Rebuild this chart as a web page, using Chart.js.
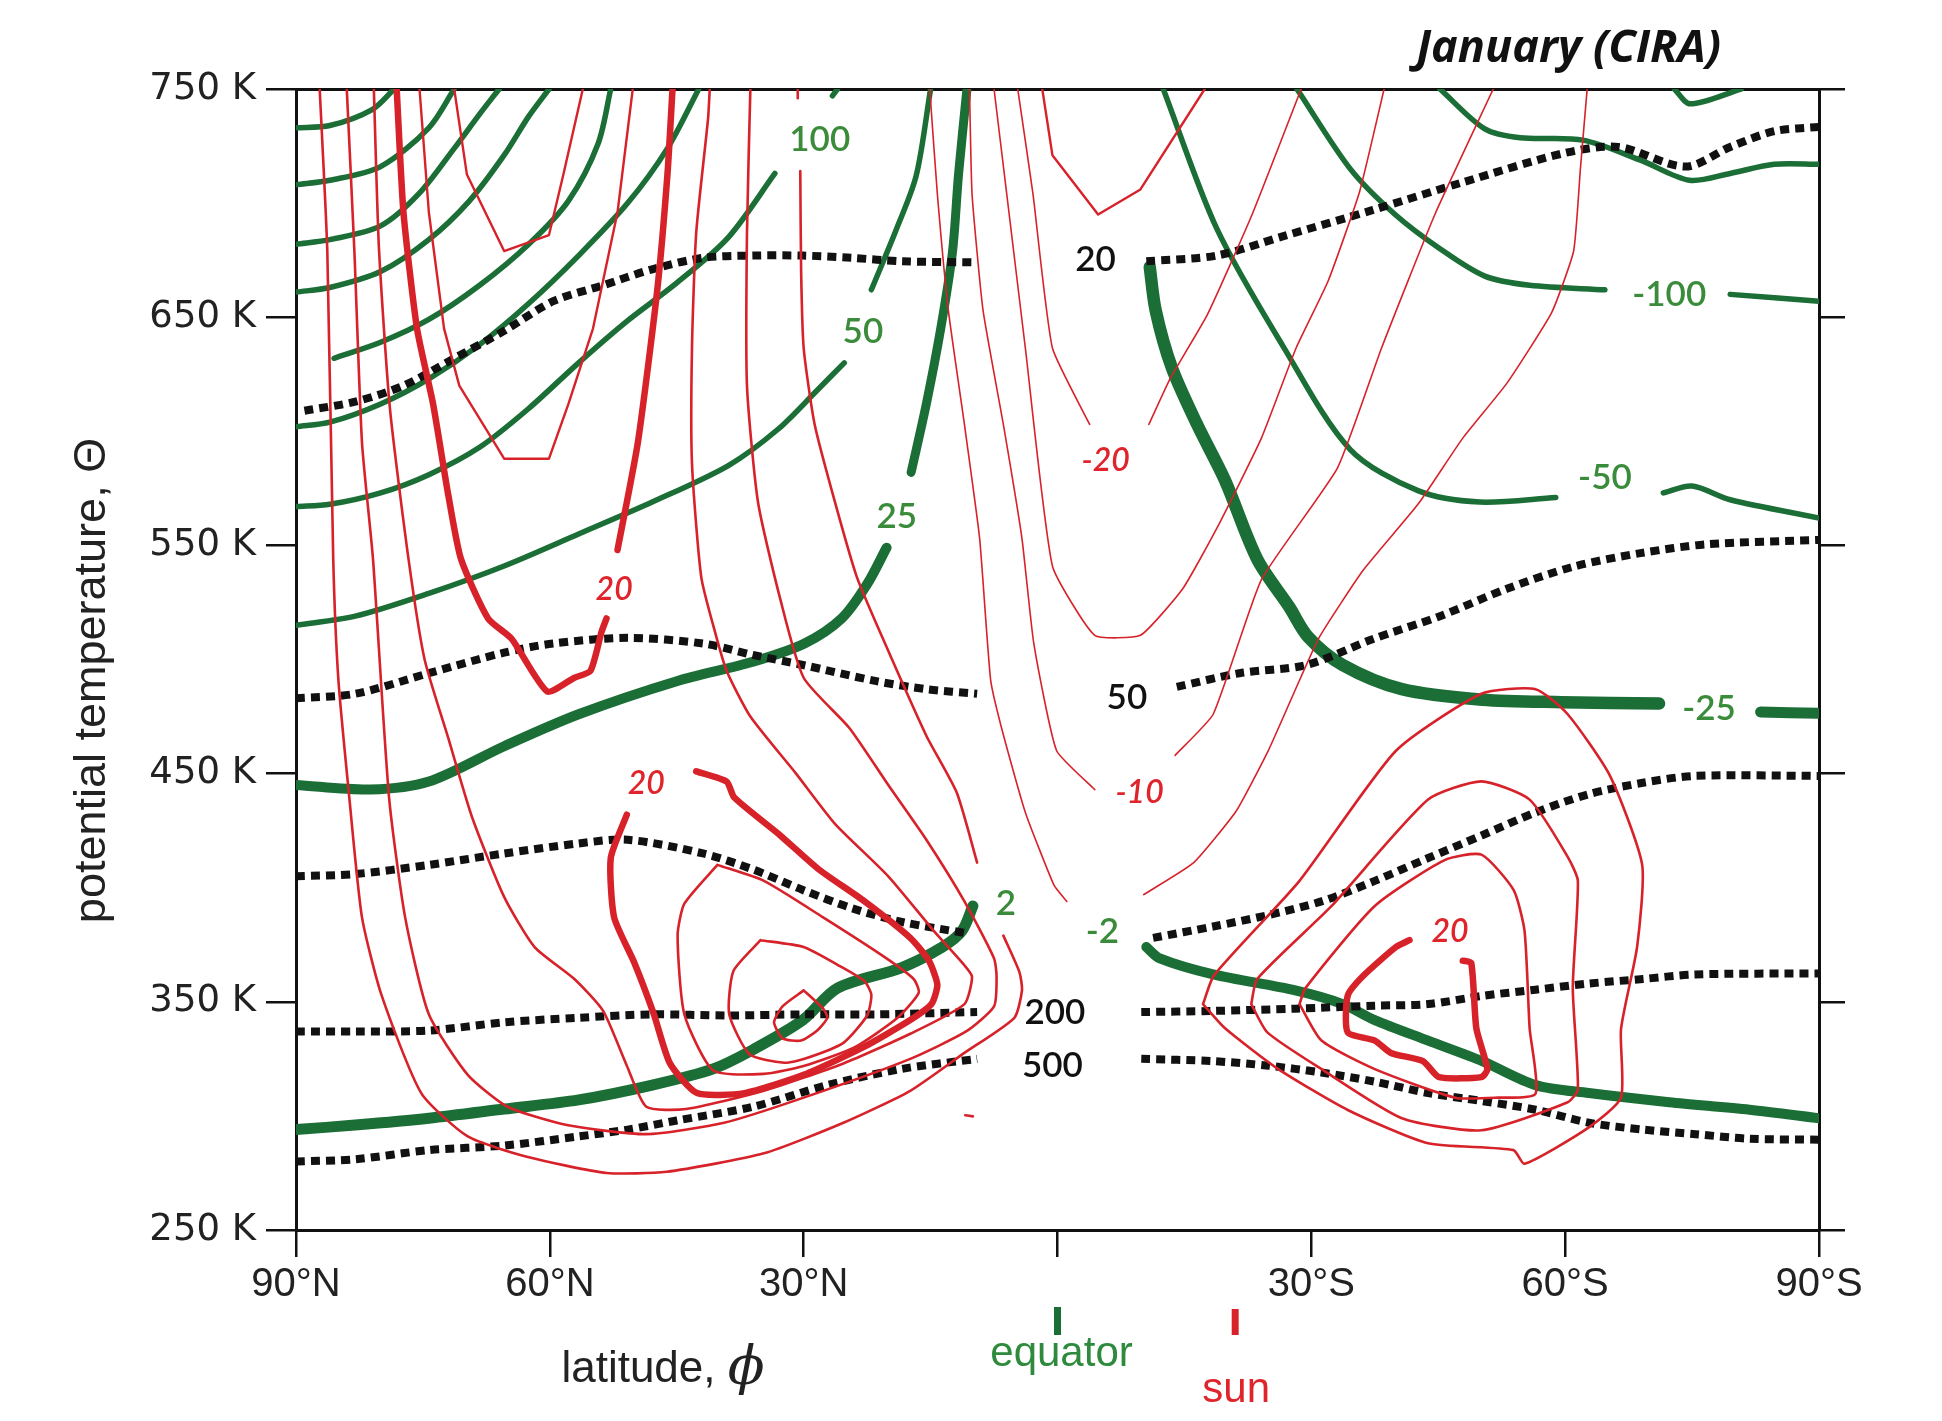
<!DOCTYPE html>
<html>
<head>
<meta charset="utf-8">
<title>January (CIRA)</title>
<script src="https://cdn.jsdelivr.net/npm/chart.js@4.4.0/dist/chart.umd.min.js"></script>
<style>
  html, body { margin: 0; padding: 0; background: #fff; }
  canvas { display: block; }
</style>
</head>
<body>
<canvas id="myChart" width="1942" height="1421"></canvas>
<script>
// Axes
const latTicks = [90, 60, 30, 0, -30, -60, -90];
const latLabels = ['90°N', '60°N', '30°N', '', '30°S', '60°S', '90°S'];
const thetaTicks = [250, 350, 450, 550, 650, 750];

// Green: potential vorticity contours [latitude, theta]
const pvN1 = [[90,733],[86,734],[81,741],[78.4,750]];
const pvN2 = [[90,708],[86,710],[80,716],[74.3,733],[71.3,750]];
const pvN3 = [[90,682],[86,684],[80,690],[75.5,704],[71.3,724],[68.3,739],[66,750]];
const pvN4 = [[90,661],[86,663],[80,670],[74.3,684],[69.5,701],[65.4,721],[62.5,738],[60.1,750]];
const pvN5 = [[85.5,632],[80,639],[74.3,649],[68.3,664],[62.5,682],[57.8,701],[54.3,726],[52.8,750]];
const pvN6 = [[90,602],[86,604],[80,612],[74.3,623],[68.3,638],[62.5,656],[56.6,677],[50.8,700],[46.1,724],[42.4,750]];
const pv100a = [[90,567],[86,568],[80,573],[74.3,581],[68.3,593],[62.5,610],[56.6,630],[50.8,648.5],[45,665],[38.9,685],[33.4,713]];
const pv100b = [[26.6,747],[26,750]];
const pv50a = [[90,515],[83,519],[74.3,529],[65.4,541],[56.6,555],[47.9,569],[38.9,585],[33,601],[28.4,618],[25.2,630]];
const pv50b = [[22,662],[19.1,688],[16.7,712],[15,750]];
const pv25a = [[90,445],[81.2,443],[74.3,446.5],[65.4,462],[56.6,476],[45,490.5],[36,499],[29.9,507],[25.5,518],[22.5,533],[20.2,549]];
const pv25b = [[17.3,582],[15.5,612],[13.8,645],[12.4,679],[11.7,712.5],[10.7,750]];
const pv2 = [[90,294],[83,296],[74.3,299],[65.4,303],[56.6,307],[47.9,313.5],[40.7,320.6],[36,329],[30.1,342],[26,356],[18.4,365],[13.6,374],[11.3,381],[10,392]];
const pvm2 = [[-10.5,374],[-12.1,369],[-18.4,362],[-28.1,355],[-33.7,349],[-37.5,342],[-43.8,333],[-50.2,324],[-56.5,313.5],[-62.8,310],[-72.3,306],[-81.8,302.7],[-90,299]];
const pvm25a = [[-10.9,672],[-11.6,653],[-13.5,628],[-16.5,603],[-19.8,578.5],[-23.6,544],[-27.4,523],[-29.6,510],[-33.7,497.6],[-40.7,487],[-50.2,482.4],[-59.6,481.3],[-71.1,480.7]];
const pvm25b = [[-83.1,477],[-90,476.4]];
const pvm50a = [[-12.5,750],[-18.8,689],[-26.7,637],[-34.6,592],[-42.6,574],[-49.9,569],[-58.9,571]];
const pvm50b = [[-71.6,573],[-75,576],[-79.5,570],[-90,562]];
const pvm100a = [[-28.3,750],[-34.6,715],[-39.9,695],[-45.2,680],[-50.5,668],[-55.8,664],[-64.7,662]];
const pvm100b = [[-79.5,660],[-90,657]];
const pvS1 = [[-45.2,750],[-50.5,732.5],[-54.7,728.6],[-62.1,727.6],[-68.9,718.8],[-74.7,710],[-79.5,713],[-84.7,717],[-90,717]];
const pvS2 = [[-72.9,750],[-74.8,743.5],[-80.8,750]];

// Black dotted: pressure levels (hPa)
const p20N = [[89,609],[83,613],[77.3,620],[71.3,632],[65.4,644],[59.6,657],[53.7,664],[47.9,671],[41.9,676],[36,677],[30.1,677],[24.3,676],[18.4,674.5],[9.5,674]];
const p20S = [[-10.5,674.5],[-18.8,677],[-26.7,685.5],[-37.3,697],[-47.8,709],[-60,722],[-66.3,724.6],[-74.2,716],[-79.5,724.6],[-84.7,731.5],[-90,733.4]];
const p50N = [[90,483],[83,485],[74.3,494],[65.4,503],[59.6,507],[50.8,509.5],[41.9,507],[36,502],[30.1,497.6],[21.4,490.5],[15.5,487],[9.5,485]];
const p50S = [[-14.1,488],[-21.5,494],[-29.4,497.6],[-37.3,509],[-45.2,519],[-53.1,531],[-61,540.7],[-68.9,546.6],[-76.8,550.5],[-90,552.4]];
const p100N = [[90,405],[83,406],[74.3,410],[65.4,415],[56.6,419.4],[50.8,421],[41.9,415],[36,408],[30.1,399],[24.3,391],[18.4,385],[10.7,380]];
const p100S = [[-11.3,378],[-18.4,383],[-24.9,388],[-31.2,394],[-37.5,403],[-43.8,413],[-50.2,423],[-56.5,433],[-62.8,441],[-69.2,446],[-75.4,449],[-90,449]];
const p200N = [[90,337],[83,337],[74.3,337.4],[65.4,341],[56.6,343],[47.9,344.5],[38.9,344],[30.1,344.5],[21.4,344.5],[9.5,345.5]];
const p200S = [[-9.9,345.5],[-18.4,346],[-28.1,347],[-37.5,348.3],[-43.8,349],[-50.2,352.6],[-56.5,355.3],[-62.8,358],[-69.2,360],[-75.4,362],[-90,362.4]];
const p500N = [[90,280],[83,281],[74.3,285],[65.4,287],[56.6,291],[50.8,294],[45,298],[36,304],[27.2,313.5],[18.4,320.6],[9.5,325]];
const p500S = [[-9.9,325],[-18.4,324],[-24.9,322],[-31.2,319],[-37.5,315],[-43.8,310],[-50.2,306.5],[-56.5,302.7],[-62.8,297],[-69.2,294],[-75.4,292],[-81.8,290],[-90,289.6]];

// Red: zonal wind (m/s)
const u5a = [[87.2,750],[86.3,679],[85.6,544],[85,491.6],[83.7,439.5],[82.2,387],[79.9,353],[75.2,310],[69.7,291],[62.6,282],[53.3,275],[46.2,275.5],[34.7,283.6],[25.3,297],[17.4,311],[11,327.6],[5.1,343],[4.2,355],[4.5,363],[6.4,379]];
const u5b = [[9.5,411],[11.9,441.6],[15.5,466.6],[20.5,508],[23.7,536],[26.3,569],[28.7,603],[30,636.5],[30.3,670],[30.4,714]];
const u5c = [[30.7,746],[30.7,750]];
const u10 = [[84,750],[83.1,679],[82.2,595],[80.9,544],[79,439.5],[77.1,387],[74.3,344.5],[69.7,318],[65,304],[58,296],[48.6,292],[39.4,297],[30,308],[17.4,325],[10.8,337],[7.5,348],[7.2,361],[7.5,369],[11,394],[15.5,421],[20,445],[24.6,470],[30,492],[32.8,527],[35.4,569],[36.7,620],[36.7,687],[36.3,750]];
const u15 = [[80.8,750],[80.2,680.5],[78.9,610],[76.7,544],[74.8,500],[72,465.5],[69.2,431],[65.4,396],[61.8,374],[57.1,360],[53.7,346],[50.9,322],[48.6,304],[43.9,303],[34.7,311],[25.3,323],[17.4,336],[11,349],[10.1,361],[11,366],[14.6,381],[20,405],[26.3,428],[30.9,450],[36.3,475],[39.1,495],[40.4,511],[42.1,536],[43.2,586],[43.2,636.5],[42.7,687],[41.3,737],[41.1,750]];
const u20a = [[78.1,750],[77.3,696],[75.7,645],[73.8,612],[72,572],[70.5,544],[67.3,518],[64.5,509],[60.3,486],[57.1,492],[55.2,495],[53.9,512],[53.3,518]];
const u20b = [[52,548],[49.6,595],[47.3,662],[46.1,712.5],[45.5,750]];
const u25v = [[75.4,750],[74.3,696],[72.5,645],[70.7,620],[65.4,588],[60.1,588],[57.8,612],[54.9,645],[52,696],[50.2,750]];
const u30v = [[71.3,750],[69.8,712.5],[65.4,679],[60.1,686],[58.4,712.5],[56.1,750]];
const u20low = [[50.9,432],[52.8,413],[52.4,387],[50,367],[47.7,344.5],[45.8,323],[42.6,310],[37,310],[30,318],[23,330],[17.4,342],[14.9,349],[14.2,357.5],[15.2,368],[17.4,378],[22.8,394],[28.2,408],[32.8,423],[38.2,439.5],[39.1,446.5],[42.7,451]];
const u25low = [[40.2,410],[34.7,403],[27.7,387],[20.6,370],[17,360],[16.4,354],[18.9,343],[24,330],[29.9,322],[34.7,318.4],[40.7,320],[44.1,344.5],[44.9,379],[44.1,393],[40.2,410]];
const u30low = [[35.1,377],[30,374],[25.9,366],[22.8,359],[22,353],[22.5,344],[25.3,332],[29.9,325],[32.3,323.3],[36.4,327],[38.8,344.5],[38.3,363.5],[35.1,377]];
const u35low = [[30,355],[27.7,347],[27.2,343],[28.4,337.4],[30.3,333],[32.5,334],[33.5,341],[32.5,348],[30,355]];
const uDash = [[10.9,300.3],[10,299.8]];
const uS5 = [[-17.2,349],[-18.5,361.6],[-28.6,403],[-40,460],[-50.1,485],[-56.5,487],[-60.3,476],[-65.3,449],[-69.1,410],[-68.5,374],[-66.6,338],[-66.6,308],[-62.8,295],[-55.2,279],[-53.9,285],[-43.8,288],[-34.3,302.6],[-26.1,320.5],[-19.8,338.4],[-17.2,349]];
const uS10 = [[-22.9,349],[-23.6,360],[-32.4,392],[-43.8,438.6],[-50.1,446.6],[-55.8,438.6],[-60.3,413.5],[-61.5,403],[-60.9,356],[-61.5,311.6],[-60.3,306],[-50.1,293.7],[-40.7,299],[-31.2,320.5],[-24.8,336.6],[-22.9,349]];
const uS15 = [[-28.6,349],[-29.3,356],[-37.5,392],[-45.7,412],[-50.1,414.5],[-53.9,399],[-55.2,381],[-55.8,338.4],[-56.5,309.7],[-52,308],[-47,308],[-37.5,320.5],[-31.2,333],[-28.6,349]];
const uS20 = [[-41.6,377],[-40,374],[-36.2,361.6],[-34.3,352.7],[-34.3,336.6],[-37.5,333],[-39.4,327.6],[-43.2,324],[-45.1,317],[-50.1,317],[-50.8,320.5],[-49.5,338.4],[-48.9,367],[-47.9,368]];
const um5a = [[15.1,750],[14.2,704],[12.9,653],[11,603],[9.2,553],[7.9,491],[6.4,467],[3.8,433],[0.4,401],[-1.1,394]];
const um5b = [[-10.2,397],[-16.1,411],[-21.1,433.5],[-24.9,460],[-27.9,485],[-30.9,509.5],[-36.1,539],[-42.6,568],[-47.9,597],[-53.1,621],[-58.4,652],[-61,679],[-61.8,715],[-62.6,750]];
const um10a = [[10.4,750],[10.1,704],[8.8,653],[6.4,603],[4.2,553],[2.8,507],[0.1,460],[-4.4,443]];
const um10b = [[-13.9,458],[-18.4,476],[-24.1,535],[-33.1,584],[-38.3,636.5],[-44.6,695],[-51.5,750]];
const um15 = [[7.5,750],[6,704],[3.8,636.5],[0.6,541],[-4.4,510.6],[-9.8,510.6],[-14.8,531],[-18.9,558],[-24.1,597],[-28.2,636.5],[-32,666],[-35.7,705],[-38.6,750]];
const um20a = [[4.7,750],[2.9,704],[0.6,636.5],[-3.8,603]];
const um20b = [[-10.8,603],[-13.3,623],[-17.7,651],[-23,695],[-28.8,750]];
const um25 = [[1.8,750],[0.6,721],[-4.8,695],[-9.8,706],[-17.4,750]];

// Contour labels [latitude, theta, text]
const pvLabels = [[28.1,727.7,'100'],[23,643.6,'50'],[19,562.7,'25'],[6.1,392.8,'2'],[-5.3,380.8,'-2'],[-72.3,659.9,'-100'],[-64.7,579.5,'-50'],[-77,478.6,'-25']];
const pressureLabels = [[-4.5,675.1,'20'],[-8.2,483.4,'50'],[0.3,345,'200'],[0.6,322.2,'500']];
const windLabels = [[52.4,530.7,'20'],[48.6,445.4,'20'],[-5.7,587.1,'-20'],[-9.7,441.6,'-10'],[-46.4,380.8,'20']];
const equatorLat = 0;
const sunLat = -21;

const GREEN = '#1b6e36';
const RED = '#d7222a';
const BLACK = '#111111';

function line(points, color, width, order, opts) {
  return Object.assign({
    data: points.map(([x, y]) => ({ x, y })),
    borderColor: color,
    borderWidth: width,
    showLine: true,
    pointRadius: 0,
    pointHoverRadius: 0,
    fill: false,
    tension: 0.3,
    borderCapStyle: 'round',
    borderJoinStyle: 'round',
    order: order,
  }, opts || {});
}

const greenThin = [pvN1, pvN2, pvN3, pvN4, pvN5, pvN6, pv100a, pv100b, pv50a, pv50b,
  pvm50a, pvm50b, pvm100a, pvm100b, pvS1, pvS2].map(d => line(d, GREEN, 5.5, 3));
const greenThick = [
  line(pv25a, GREEN, 10, 3), line(pv25b, GREEN, 9, 3), line(pv2, GREEN, 11, 3),
  line(pvm2, GREEN, 10, 3), line(pvm25a, GREEN, 12.5, 3), line(pvm25b, GREEN, 11, 3),
];
const dotted = [p20N, p20S, p50N, p50S, p100N, p100S, p200N, p200S, p500N, p500S]
  .map(d => line(d, BLACK, 8, 2, { borderDash: [9, 6], borderCapStyle: 'butt', tension: 0.3 }));
const redJet = [u5a, u5b, u5c, u10, u15, u25low, u30low, u35low, uDash, uS5, uS10, uS15]
  .map(d => line(d, RED, 2.6, 1, { tension: 0.2 }));
const redVee = [u25v, u30v, um25].map(d => line(d, RED, 2.4, 1, { tension: 0 }));
const redThick = [u20a, u20b, u20low, uS20].map(d => line(d, RED, 6.5, 1, { tension: 0.2 }));
const redCentral = [um5a, um5b, um10a, um10b, um15, um20a, um20b]
  .map(d => line(d, RED, 1.6, 1, { tension: 0.15 }));

const annotate = {
  id: 'annotate',
  afterDraw(chart) {
    const { ctx, chartArea, scales: { x, y } } = chart;
    ctx.save();
    ctx.textAlign = 'center';
    ctx.textBaseline = 'middle';
    const put = (list, color, font) => {
      ctx.fillStyle = color;
      ctx.font = font;
      list.forEach(([lat, th, t]) => ctx.fillText(t, x.getPixelForValue(lat), y.getPixelForValue(th)));
    };
    put(pvLabels, '#3a8b3a', '600 35px Lato');
    put(pressureLabels, BLACK, '600 35px Lato');
    put(windLabels, '#e0242c', 'italic 600 32px Lato');

    // title
    ctx.fillStyle = BLACK;
    ctx.font = 'italic bold 45px "Open Sans"';
    ctx.textAlign = 'right';
    ctx.fillText('January (CIRA)', chartArea.right - 98, chartArea.top - 40);

    // axis titles
    ctx.textAlign = 'center';
    ctx.fillStyle = '#222';
    ctx.font = '45px "Liberation Sans"';
    ctx.save();
    ctx.translate(chartArea.left - 203, (chartArea.top + chartArea.bottom) / 2 + 21);
    ctx.rotate(-Math.PI / 2);
    ctx.fillText('potential temperature, Θ', 0, 0);
    ctx.restore();

    const xTitle = 'latitude, ';
    ctx.font = '44px "Liberation Sans"';
    const w1 = ctx.measureText(xTitle).width;
    ctx.font = 'italic 54px "DejaVu Serif"';
    const w2 = ctx.measureText('ϕ').width;
    const tx = chartArea.left + 367 - (w1 + w2) / 2;
    ctx.textAlign = 'left';
    ctx.font = '44px "Liberation Sans"';
    ctx.fillText(xTitle, tx, chartArea.bottom + 140);
    ctx.font = 'italic 54px "DejaVu Serif"';
    ctx.fillText('ϕ', tx + w1, chartArea.bottom + 140);
    ctx.textAlign = 'center';

    // equator and sun markers
    const ex = x.getPixelForValue(equatorLat);
    const sx = x.getPixelForValue(sunLat);
    ctx.lineWidth = 7;
    ctx.strokeStyle = GREEN;
    ctx.beginPath(); ctx.moveTo(ex, chartArea.bottom + 77); ctx.lineTo(ex, chartArea.bottom + 105); ctx.stroke();
    ctx.strokeStyle = RED;
    ctx.beginPath(); ctx.moveTo(sx, chartArea.bottom + 79); ctx.lineTo(sx, chartArea.bottom + 105); ctx.stroke();
    ctx.font = '42px "Liberation Sans"';
    ctx.fillStyle = '#2e8a3c';
    ctx.fillText('equator', ex + 4, chartArea.bottom + 124);
    ctx.fillStyle = '#e0242c';
    ctx.fillText('sun', sx + 1, chartArea.bottom + 160);
    ctx.restore();
  }
};

const setTheta = s => { s.ticks = thetaTicks.map(v => ({ value: v })); };
const axisGrid = len => ({ drawOnChartArea: false, drawTicks: true, tickLength: len, color: BLACK, lineWidth: 2.5 });
const axisBorder = { display: true, color: BLACK, width: 3 };

const config = {
  type: 'scatter',
  data: { datasets: [...greenThin, ...greenThick, ...dotted, ...redJet, ...redVee, ...redThick, ...redCentral] },
  options: {
    responsive: false,
    devicePixelRatio: 1,
    animation: false,
    events: [],
    layout: { padding: 0 },
    plugins: { legend: { display: false }, tooltip: { enabled: false } },
    scales: {
      x: {
        type: 'linear', position: 'bottom', min: -90, max: 90, reverse: true,
        afterBuildTicks: s => { s.ticks = latTicks.map(v => ({ value: v })); },
        afterFit: s => { s.height = 191; },
        grid: axisGrid(27),
        border: axisBorder,
        ticks: {
          autoSkip: false, maxRotation: 0, padding: 4, color: '#222',
          font: { family: 'Liberation Sans', size: 40 },
          callback: v => latLabels[latTicks.indexOf(v)],
        },
      },
      xTop: {
        type: 'linear', position: 'top', min: -90, max: 90, reverse: true,
        afterFit: s => { s.height = 89; },
        grid: { display: false },
        border: axisBorder,
        ticks: { display: false },
      },
      y: {
        type: 'linear', position: 'left', min: 250, max: 750,
        afterBuildTicks: setTheta,
        afterFit: s => { s.width = 296; },
        grid: axisGrid(30),
        border: axisBorder,
        ticks: {
          padding: 10, color: '#222',
          font: { family: 'DejaVu Sans', size: 37 },
          callback: v => v + ' K',
        },
      },
      yRight: {
        type: 'linear', position: 'right', min: 250, max: 750,
        afterBuildTicks: setTheta,
        afterFit: s => { s.width = 123; },
        grid: axisGrid(26),
        border: axisBorder,
        ticks: { display: false },
      },
    },
  },
  plugins: [annotate],
};

const ctx = document.getElementById('myChart').getContext('2d');
const myChart = new Chart(ctx, config);
</script>
</body>
</html>
